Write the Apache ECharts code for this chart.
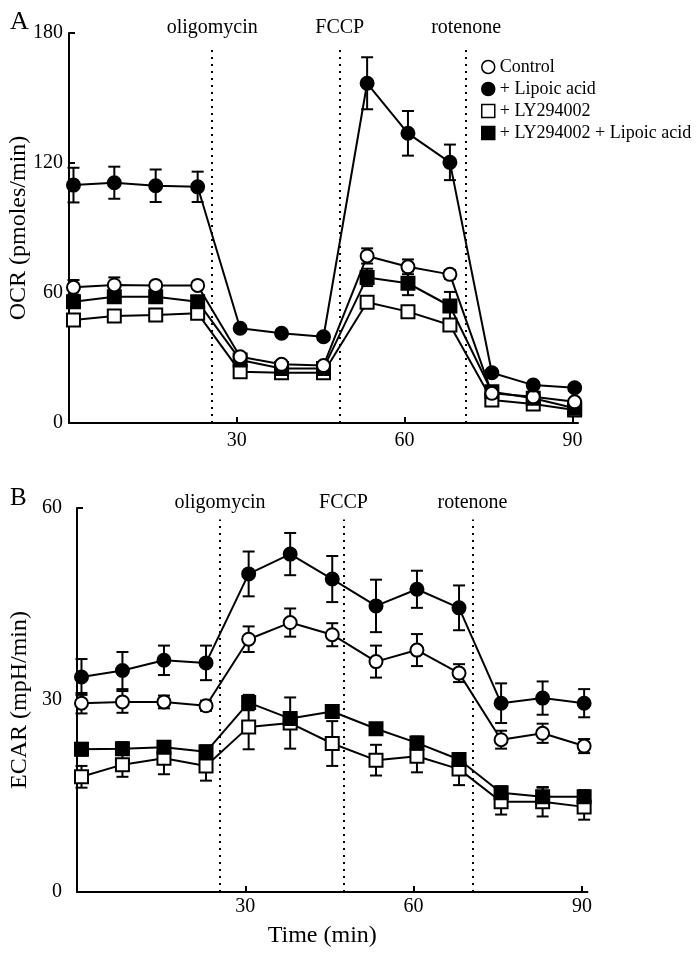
<!DOCTYPE html>
<html>
<head>
<meta charset="utf-8">
<script src="https://cdn.jsdelivr.net/npm/echarts@6/dist/echarts.min.js"></script>
<style>
html,body{margin:0;padding:0;background:#fff;}
#chart{width:699px;height:957px;}
</style>
</head>
<body>
<div id="chart"></div>
<script>
// ---- data ----
var times = [0.8, 8.1, 15.5, 23, 30.6, 38, 45.5, 53.3, 60.6, 68.1, 75.6, 83, 90.4];
var seriesNames = ['Control', '+ Lipoic acid', '+ LY294002', '+ LY294002 + Lipoic acid'];
var drugNames = ['oligomycin', 'FCCP', 'rotenone'];
var drugTimesA = [25.6, 48.4, 71.0];
var drugTimesB = [25.5, 47.5, 70.5];
var xTickValues = [30, 60, 90];

var ocrControl      = [62.6, 63.7, 63.5, 63.5, 30.6, 27.1, 26.5, 77.1, 72.1, 68.6, 13.7, 12.1, 9.8];
var ocrControlErr   = [3.4, 3.5, 1.5, 1.5, 1.5, 1.5, 1.5, 3.5, 3.4, 2, 1, 1, 1];
var ocrLipoic       = [109.8, 110.9, 109.5, 109, 43.7, 41.4, 39.8, 156.8, 133.7, 120.3, 23.2, 17.5, 16.3];
var ocrLipoicErr    = [8, 7.4, 7.5, 7, 1.5, 1.5, 1.5, 12, 10.3, 8.2, 1.5, 1.5, 1.5];
var ocrLY           = [47.5, 49.4, 49.8, 50.6, 23.7, 23.2, 23.2, 55.7, 51.4, 45.2, 10.6, 8.8, 6];
var ocrLYErr        = [1.5, 1.5, 1.5, 1.5, 1, 1, 1, 2, 2.5, 1.5, 1, 1, 1];
var ocrLYLipoic     = [56, 58.3, 58.3, 56, 29.1, 25.2, 25.2, 67.2, 64.5, 54, 14.4, 11.4, 6.8];
var ocrLYLipoicErr  = [2, 2.5, 2.5, 2.5, 1.5, 1, 1, 4, 5.5, 6.5, 1, 1, 1];

var ecarControl     = [29.5, 29.7, 29.7, 29.1, 39.5, 42.1, 40.2, 36, 37.8, 34.2, 23.8, 24.8, 22.8];
var ecarControlErr  = [1.6, 1.7, 1, 0.8, 2, 2.2, 1.8, 2.5, 2.5, 1.4, 1.4, 1.5, 1.1];
var ecarLipoic      = [33.6, 34.6, 36.2, 35.8, 49.7, 52.8, 48.9, 44.7, 47.3, 44.4, 29.5, 30.3, 29.5];
var ecarLipoicErr   = [2.8, 2.9, 2.3, 2.7, 3.5, 3.3, 3.6, 4.1, 2.9, 3.5, 3.1, 2.6, 2.2];
var ecarLY          = [18.0, 19.9, 20.9, 19.7, 25.8, 26.4, 23.2, 20.6, 21.2, 19.2, 14.1, 14.1, 13.3];
var ecarLYErr       = [1.7, 1.9, 2.5, 2.3, 3.5, 4, 3.5, 2.4, 2.5, 2.5, 2, 2.3, 2];
var ecarLYLipoic    = [22.3, 22.4, 22.6, 21.9, 29.6, 27.1, 28.2, 25.5, 23.3, 20.7, 15.5, 14.9, 14.9];
var ecarLYLipoicErr = [1, 1, 1, 1, 1.2, 1, 1, 0.8, 1, 1, 1, 1.4, 1];

// ---- chart ----
var FONT = '"Liberation Serif", "Times New Roman", serif';
var chart = echarts.init(document.getElementById('chart'), null, {renderer: 'canvas'});

var styles = [
  {symbol: 'circle', fill: '#fff'},
  {symbol: 'circle', fill: '#000'},
  {symbol: 'rect', fill: '#fff'},
  {symbol: 'rect', fill: '#000'}
];

function pairs(vals) { return vals.map(function (v, i) { return [times[i], v]; }); }
function errData(vals, errs) { return vals.map(function (v, i) { return [times[i], v, errs[i]]; }); }

function errSeries(vals, errs, gi) {
  return {
    type: 'custom', xAxisIndex: gi, yAxisIndex: gi, z: 1, silent: true,
    data: errData(vals, errs),
    encode: {x: 0, y: 1},
    renderItem: function (params, api) {
      var x = api.value(0), y = api.value(1), e = api.value(2);
      var top = api.coord([x, y + e]);
      var bot = api.coord([x, y - e]);
      var hw = 6;
      var st = {stroke: '#000', lineWidth: 2};
      return {type: 'group', children: [
        {type: 'line', shape: {x1: top[0], y1: top[1], x2: bot[0], y2: bot[1]}, style: st},
        {type: 'line', shape: {x1: top[0] - hw, y1: top[1], x2: top[0] + hw, y2: top[1]}, style: st},
        {type: 'line', shape: {x1: bot[0] - hw, y1: bot[1], x2: bot[0] + hw, y2: bot[1]}, style: st}
      ]};
    }
  };
}

function lineSeries(name, vals, si, gi) {
  return {
    type: 'line', name: name, xAxisIndex: gi, yAxisIndex: gi, z: 3,
    data: pairs(vals),
    symbol: styles[si].symbol, symbolSize: 13,
    lineStyle: {color: '#000', width: 2},
    itemStyle: {color: styles[si].fill, borderColor: '#000', borderWidth: 2},
    emphasis: {disabled: true}
  };
}

function drugSeries(drugTimes, gi, topVal) {
  return {
    type: 'line', xAxisIndex: gi, yAxisIndex: gi, data: [], silent: true,
    markLine: {
      silent: true, symbol: ['none', 'none'], animation: false,
      lineStyle: {color: '#000', width: 2, type: [2, 5]},
      label: {show: true, position: 'end', distance: 7, formatter: '{b}',
              fontFamily: FONT, fontSize: 20, color: '#000'},
      data: drugTimes.map(function (t, i) {
        return [{coord: [t, 0], name: drugNames[i]}, {coord: [t, topVal]}];
      })
    }
  };
}

function xAxisCfg(gi, labelMargin, extra) {
  var a = {
    type: 'value', gridIndex: gi, min: 0, max: 91, interval: 30,
    splitLine: {show: false},
    axisLine: {lineStyle: {color: '#000', width: 2}},
    axisTick: {inside: true, length: 6, lineStyle: {color: '#000', width: 2}, customValues: xTickValues},
    axisLabel: {fontFamily: FONT, fontSize: 20, color: '#000', margin: labelMargin, customValues: xTickValues,
      formatter: function (v) { return (v > 0 && v % 30 === 0) ? String(v) : ''; }}
  };
  for (var k in extra) a[k] = extra[k];
  return a;
}

function yAxisCfg(gi, max, interval, name, nameGap, labelMargin) {
  return {
    type: 'value', gridIndex: gi, min: 0, max: max, interval: interval,
    name: name, nameLocation: 'middle', nameGap: nameGap, nameMoveOverlap: false,
    nameTextStyle: {fontFamily: FONT, fontSize: 24, color: '#000'},
    splitLine: {show: false},
    axisLine: {show: true, lineStyle: {color: '#000', width: 2}},
    axisTick: {show: true, inside: true, length: 6, lineStyle: {color: '#000', width: 2}},
    axisLabel: {fontFamily: FONT, fontSize: 20, color: '#000', margin: labelMargin}
  };
}

var ocrVals = [ocrControl, ocrLipoic, ocrLY, ocrLYLipoic];
var ocrErrs = [ocrControlErr, ocrLipoicErr, ocrLYErr, ocrLYLipoicErr];
var ecarVals = [ecarControl, ecarLipoic, ecarLY, ecarLYLipoic];
var ecarErrs = [ecarControlErr, ecarLipoicErr, ecarLYErr, ecarLYLipoicErr];

var series = [];
[0, 1].forEach(function (gi) {
  var vals = gi === 0 ? ocrVals : ecarVals;
  var errs = gi === 0 ? ocrErrs : ecarErrs;
  for (var i = 0; i < 4; i++) series.push(errSeries(vals[i], errs[i], gi));
  [2, 3, 0, 1].forEach(function (i) { series.push(lineSeries(seriesNames[i], vals[i], i, gi)); });
});
series.push(drugSeries(drugTimesA, 0, 174.5));
series.push(drugSeries(drugTimesB, 1, 58.2));

var option = {
  animation: false,
  backgroundColor: '#fff',
  title: [
    {text: 'A', left: 5, top: 4, textStyle: {fontFamily: FONT, fontSize: 26, fontWeight: 'normal', color: '#000'}},
    {text: 'B', left: 5, top: 481, textStyle: {fontFamily: FONT, fontSize: 25, fontWeight: 'normal', color: '#000'}}
  ],
  legend: {
    orient: 'vertical', left: 476, top: 53,
    itemWidth: 13, itemHeight: 13, itemGap: 4,
    selectedMode: false,
    textStyle: {fontFamily: FONT, fontSize: 18, color: '#000', lineHeight: 17},
    data: seriesNames.map(function (n, i) {
      return {name: n, icon: styles[i].symbol,
        itemStyle: {color: styles[i].fill, borderColor: '#000', borderWidth: 1.5}};
    })
  },
  grid: [
    {left: 69, top: 33, width: 509, height: 390, outerBoundsMode: 'none', containLabel: false},
    {left: 77, top: 508, width: 510.5, height: 384, outerBoundsMode: 'none', containLabel: false}
  ],
  xAxis: [
    xAxisCfg(0, 8, {}),
    xAxisCfg(1, 5, {name: 'Time (min)', nameLocation: 'middle', nameGap: 32, nameMoveOverlap: false,
      nameTextStyle: {fontFamily: FONT, fontSize: 24, color: '#000', padding: [0, 20, 0, 0]}})
  ],
  yAxis: [
    yAxisCfg(0, 180, 60, 'OCR (pmoles/min)', 38, 6),
    yAxisCfg(1, 60, 30, 'ECAR (mpH/min)', 45, 15)
  ],
  series: series
};
chart.setOption(option);
</script>
</body>
</html>
